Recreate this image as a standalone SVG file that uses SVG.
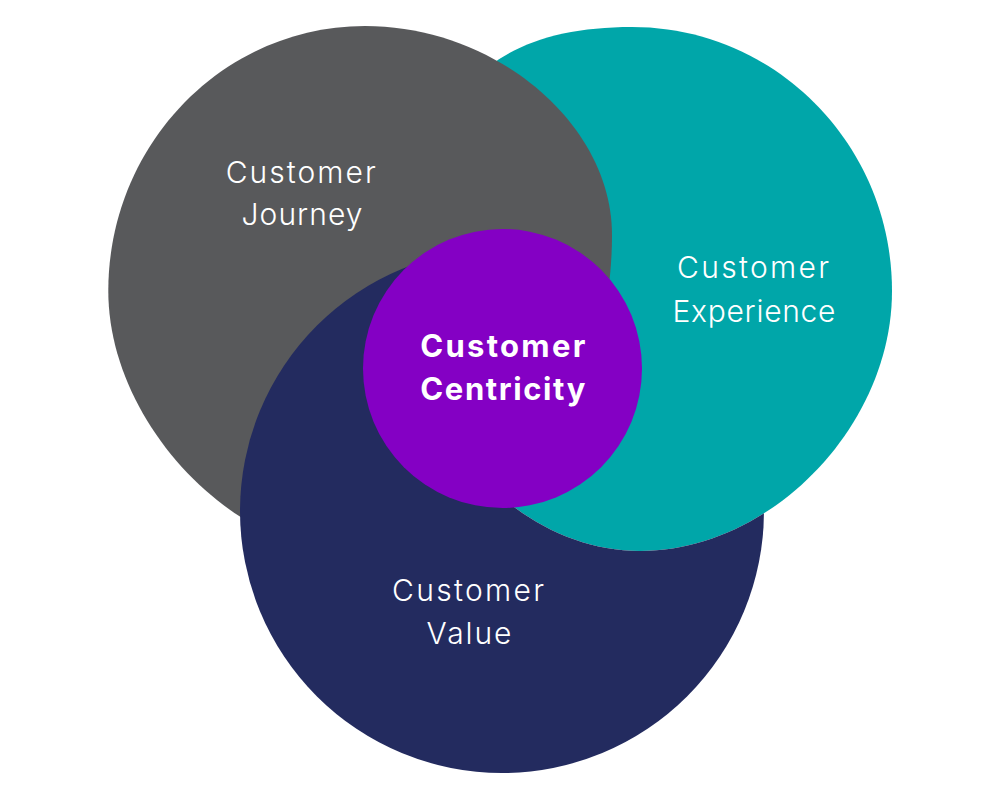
<svg xmlns="http://www.w3.org/2000/svg" xmlns:xlink="http://www.w3.org/1999/xlink" width="1000" height="800" viewBox="0 0 1000 800">
  <style>
    .lbl { font-family: Inter, "Noto Sans", "Liberation Sans", sans-serif; font-size: 30px; font-weight: 300; fill: #ffffff; text-anchor: middle; }
    .ctr { font-family: Inter, "Noto Sans", "Liberation Sans", sans-serif; font-size: 31px; font-weight: 700; fill: #ffffff; text-anchor: middle; }
  </style>
  <defs>
    <path id="tealShape" d="M 632,27 C 775.6,27 892,145.2 892,291 C 892,426 771,551 640,551 C 518.1,551 410,433 410,300 C 410,108.9 476.6,27 632,27 Z"/>
    <mask id="notTeal" maskUnits="userSpaceOnUse" x="0" y="0" width="1000" height="800">
      <rect x="0" y="0" width="1000" height="800" fill="#ffffff"/>
      <use xlink:href="#tealShape" fill="#000000"/>
    </mask>
  </defs>
  <rect x="0" y="0" width="1000" height="800" fill="#ffffff"/>
  <g id="experience">
    <use xlink:href="#tealShape" fill="#00A6A9"/>
  </g>
  <g id="journey">
    <path d="M 108.3,291 C 108.3,144.6 223.2,26 365,26 C 495.9,26 612,124.2 612,235 C 612,411 498.6,555 360,555 C 234.2,555 108.3,423 108.3,291 Z" fill="#58595B"/>
  </g>
  <g id="value">
    <circle cx="502" cy="511" r="262" fill="#232B5F" mask="url(#notTeal)"/>
  </g>
  <g id="centricity">
    <circle cx="502.5" cy="368.5" r="139.5" fill="#8400C4"/>
  </g>
  <g id="labels">
    <text class="lbl" x="300.7" y="182.5" textLength="150" lengthAdjust="spacing">Customer</text>
    <text class="lbl" x="302" y="225" textLength="121" lengthAdjust="spacing">Journey</text>
    <text class="lbl" x="753" y="277.5" textLength="152" lengthAdjust="spacing">Customer</text>
    <text class="lbl" x="754" y="321.5" textLength="163" lengthAdjust="spacing">Experience</text>
    <text class="lbl" x="468" y="600.7" textLength="152" lengthAdjust="spacing">Customer</text>
    <text class="lbl" x="469" y="644" textLength="85" lengthAdjust="spacing">Value</text>
    <text class="ctr" x="502.8" y="356.7" textLength="165" lengthAdjust="spacing">Customer</text>
    <text class="ctr" x="502.8" y="400" textLength="165" lengthAdjust="spacing">Centricity</text>
  </g>
</svg>
